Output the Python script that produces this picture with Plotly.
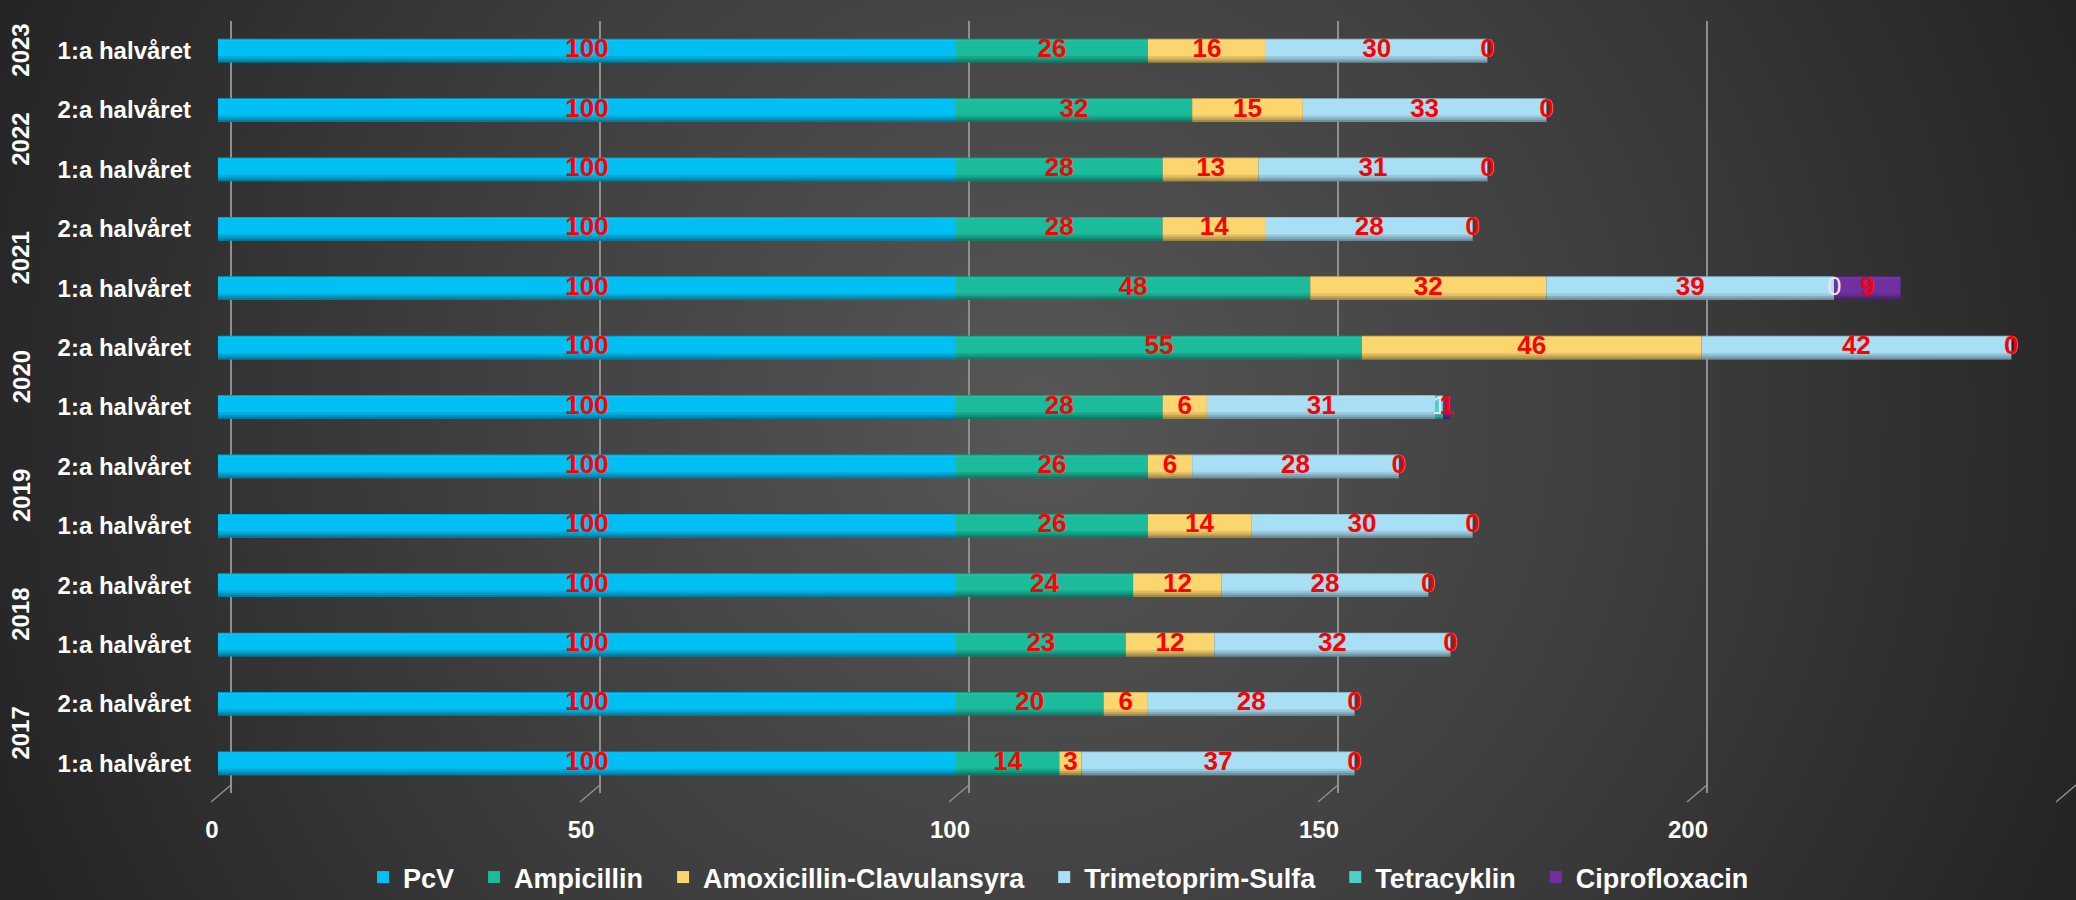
import base64
import plotly.graph_objects as go

# ---------------- data ----------------
years = ["2017", "2017", "2018", "2018", "2019", "2019", "2020", "2020",
         "2021", "2021", "2022", "2022", "2023"]
halves = ["1:a halvåret", "2:a halvåret"] * 6 + ["1:a halvåret"]

series_names = ["PcV", "Ampicillin", "Amoxicillin-Clavulansyra",
                "Trimetoprim-Sulfa", "Tetracyklin", "Ciprofloxacin"]

pcv = [100, 100, 100, 100, 100, 100, 100, 100, 100, 100, 100, 100, 100]
ampicillin = [14, 20, 23, 24, 26, 26, 28, 55, 48, 28, 28, 32, 26]
amoxi_clav = [3, 6, 12, 12, 14, 6, 6, 46, 32, 14, 13, 15, 16]
trimetoprim = [37, 28, 32, 28, 30, 28, 31, 42, 39, 28, 31, 33, 30]
tetracyklin = [0, 0, 0, 0, 0, 0, 1, 0, 0, 0, 0, 0, 0]
ciprofloxacin = [0, 0, 0, 0, 0, 0, 1, 0, 9, 0, 0, 0, 0]

x_ticks = [0, 50, 100, 150, 200, 250]

# ---------------- style ----------------
colors = ["#00BFF3", "#1ABC9C", "#FBD56E", "#A9DFF5", "#4FCFC6", "#7030A0"]
label_colors = ["#FF0000", "#FF0000", "#FF0000", "#FF0000", "#E6E6E6", "#FF0000"]
FONT = "Liberation Sans, Arial, sans-serif"
GRID = "#8f8f8f"
LEGEND_PAD = "\u00a0\u00a0"

W, H = 2076, 900
ML, MR, MT, MB = 218, 13, 21, 107
plot_w = W - ML - MR
plot_h = H - MT - MB
x_max = 250
px_per_unit = plot_w / x_max
grid_shift = 13 / px_per_unit  # back-wall gridlines sit slightly right of the bars
BAR_W = 0.4

cats = [f"{y} {h}" for y, h in zip(years, halves)]
series = [pcv, ampicillin, amoxi_clav, trimetoprim, tetracyklin, ciprofloxacin]

fig = go.Figure()

# stacked segments (explicit bases so shading overlays can sit on top)
cum = [0] * len(cats)
bases = []
for name, vals, col in zip(series_names, series, colors):
    bases.append(list(cum))
    fig.add_trace(go.Bar(
        y=cats, x=vals, base=list(cum), orientation="h", name=name + LEGEND_PAD,
        width=BAR_W, offset=-BAR_W / 2,
        marker=dict(color=col, line=dict(width=0)),
        hovertemplate=name + ": %{x}<extra></extra>",
    ))
    cum = [c + v for c, v in zip(cum, vals)]
totals = cum

# cylinder-like shading bands along each whole bar
bands = [(-0.20, 0.035, "rgba(0,0,0,0.35)"), (-0.165, 0.035, "rgba(0,0,0,0.22)"),
         (-0.13, 0.04, "rgba(0,0,0,0.10)"), (0.185, 0.015, "rgba(0,0,0,0.18)"),
         (0.16, 0.025, "rgba(255,255,255,0.06)")]
for off, wd, c in bands:
    fig.add_trace(go.Bar(
        y=cats, x=totals, base=[0] * len(cats), orientation="h",
        width=wd, offset=off, marker=dict(color=c, line=dict(width=0)),
        showlegend=False, hoverinfo="skip",
    ))

# data labels at segment centres
for name, vals, base, lc in zip(series_names, series, bases, label_colors):
    mids = [b + v / 2 for b, v in zip(base, vals)]
    bold = lc == "#FF0000"
    fig.add_trace(go.Scatter(
        x=mids, y=cats, mode="text", text=[str(v) for v in vals],
        textposition="middle center",
        textfont=dict(family=FONT, size=26, color=lc,
                      weight="bold" if bold else "normal"),
        showlegend=False, hoverinfo="skip", cliponaxis=False,
    ))

# invisible trace that activates the back-wall grid axis
fig.add_trace(go.Scatter(
    x=[x_ticks[0]], y=[cats[0]], xaxis="x2", mode="markers",
    marker=dict(opacity=0), showlegend=False, hoverinfo="skip",
))

# little 3-D floor strokes at the foot of each gridline
def y_paper(px):
    return (MT + plot_h - px) / plot_h

for t in x_ticks:
    gx = (t * px_per_unit + 13) / plot_w
    fx = (t * px_per_unit - 7) / plot_w
    fig.add_shape(type="line", xref="paper", yref="paper",
                  x0=gx, y0=y_paper(785), x1=fx, y1=y_paper(802),
                  line=dict(color=GRID, width=1.5), layer="below")

# year annotations (rotated), centred on their group
year_list = []
for y in years:
    if y not in year_list:
        year_list.append(y)
for yr in year_list:
    idx = [i for i, y in enumerate(years) if y == yr]
    fig.add_annotation(
        x=0, xref="paper", xshift=-(ML - 21), xanchor="center",
        y=sum(idx) / len(idx), yref="y", yanchor="middle",
        text=yr, textangle=-90, showarrow=False,
        font=dict(family=FONT, size=24, color="white", weight="bold"),
    )

# radial-gradient background
svg = f"""<svg xmlns='http://www.w3.org/2000/svg' width='{W}' height='{H}' viewBox='0 0 {W} {H}'>
<defs><radialGradient id='g' gradientUnits='userSpaceOnUse' cx='1040' cy='420' r='1150'>
<stop offset='0' stop-color='#575757'/><stop offset='0.55' stop-color='#3c3c3c'/>
<stop offset='0.85' stop-color='#2b2b2b'/><stop offset='1' stop-color='#232323'/>
</radialGradient></defs><rect width='{W}' height='{H}' fill='url(#g)'/></svg>"""
src = "data:image/svg+xml;base64," + base64.b64encode(svg.encode()).decode()
fig.add_layout_image(dict(
    source=src, xref="paper", yref="paper",
    x=-ML / plot_w, y=1 + MT / plot_h,
    sizex=W / plot_w, sizey=H / plot_h,
    xanchor="left", yanchor="top", sizing="stretch", layer="below",
))

fig.update_layout(
    width=W, height=H,
    margin=dict(l=ML, r=MR, t=MT, b=MB, pad=0, autoexpand=False),
    paper_bgcolor="#2a2a2a", plot_bgcolor="rgba(0,0,0,0)",
    barmode="overlay",
    font=dict(family=FONT, color="white"),
    xaxis=dict(
        range=[0, x_max], tickvals=x_ticks, ticktext=[str(t) for t in x_ticks],
        showgrid=False, zeroline=False, showline=False, ticks="",
        ticklabelstandoff=20, ticklabelshift=-6, automargin=False,
        tickfont=dict(family=FONT, size=24, color="white", weight="bold"),
    ),
    xaxis2=dict(
        range=[-grid_shift, x_max - grid_shift], overlaying="x", anchor="y",
        tickvals=x_ticks, showticklabels=False, showgrid=True,
        gridcolor=GRID, gridwidth=1.5, zeroline=False, showline=False,
        ticks="", automargin=False,
    ),
    yaxis=dict(
        type="category", categoryorder="array", categoryarray=cats,
        tickvals=cats, ticktext=halves, range=[-0.5, len(cats) - 0.5],
        showgrid=False, zeroline=False, showline=False, ticks="",
        ticklabelstandoff=26, automargin=False,
        tickfont=dict(family=FONT, size=24, color="white", weight="bold"),
    ),
    legend=dict(
        orientation="h", xref="container", x=1066 / W, xanchor="center",
        yref="paper", y=y_paper(853), yanchor="top",
        font=dict(family=FONT, size=27, color="white", weight="bold"),
        bgcolor="rgba(0,0,0,0)", itemclick=False, traceorder="normal",
    ),
)

fig.write_html(
    "out.html",
    config={"displayModeBar": False},
    post_script="document.body.style.margin='0';"
                "document.body.style.background='#232323';"
                "document.body.style.overflow='hidden';",
)
